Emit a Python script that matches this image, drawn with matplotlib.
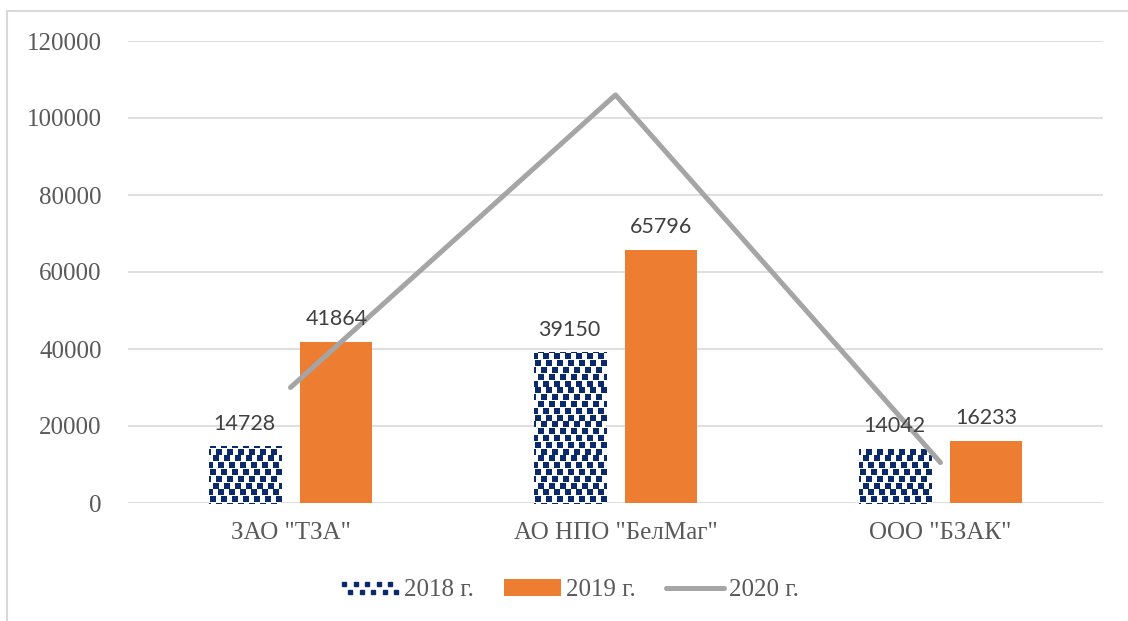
import numpy as np
import matplotlib
matplotlib.use('Agg')
import matplotlib.pyplot as plt
from matplotlib.lines import Line2D
from matplotlib.patches import Patch, Rectangle
from matplotlib.legend_handler import HandlerBase

companies = ['ЗАО "ТЗА"', 'АО НПО "БелМаг"', 'ООО "БЗАК"']
v2018 = [14728, 39150, 14042]
v2019 = [41864, 65796, 16233]
v2020 = [30000, 106000, 10500]
yticks = [0, 20000, 40000, 60000, 80000, 100000, 120000]

NAVY = '#0b2a6b'
ORANGE = '#ED7D31'
GREY = '#A5A5A5'
TXT = '#595959'

plt.rcParams['font.family'] = ['Liberation Serif', 'DejaVu Serif']

fig = plt.figure(figsize=(11.28, 6.21), dpi=100)
ax = fig.add_axes([128/1128, 1-503/621, 975/1128, 462/621])

x = np.arange(len(companies))
w = 0.2215
off = 0.1415

ax.set_xlim(-0.5, 2.5)
ax.set_ylim(0, 120000)
ax.set_yticks(yticks)
ax.yaxis.grid(True, color='#D9D9D9', lw=1.2)
ax.set_axisbelow(True)
for s in ax.spines.values():
    s.set_visible(False)
ax.tick_params(length=0)
ax.tick_params(axis='y', pad=19, labelsize=18, labelcolor=TXT)
ax.tick_params(axis='x', pad=14, labelsize=18, labelcolor=TXT)
ax.set_xticks(x)
ax.set_xticklabels(companies)

b18 = ax.bar(x - off, v2018, w, color='white', lw=0, zorder=2)
b19 = ax.bar(x + off, v2019, w, color=ORANGE, lw=0, zorder=2)

# dotted fill for 2018 bars: small squares, clipped to each bar
inv = ax.transData.inverted()
for bar in b18:
    (x0, y0), (x1, y1) = ax.transData.transform(
        [(bar.get_x(), 0), (bar.get_x() + bar.get_width(), bar.get_height())])
    pts = []
    j = 0
    for py in np.arange(y0 - 3, y1 + 6, 6.8):
        shift = (j % 2) * 5.5 + ((j // 2) % 2) * 2.8
        for px in np.arange(x0 - 12 + shift, x1 + 6, 11):
            pts.append((px, py))
        j += 1
    pts = inv.transform(np.array(pts))
    sc = ax.scatter(pts[:, 0], pts[:, 1], marker='s', s=14, color=NAVY,
                    lw=0, zorder=3)
    sc.set_clip_path(bar)

ax.plot(x, v2020, color=GREY, lw=3.6, solid_capstyle='round', zorder=4)

for xi, v in zip(x - off, v2018):
    ax.annotate(str(v), (xi, v), xytext=(0, 9), textcoords='offset points',
                ha='center', va='bottom', fontsize=15.5, family='Lato',
                color='#404040', zorder=5)
for xi, v in zip(x + off, v2019):
    ax.annotate(str(v), (xi, v), xytext=(0, 9), textcoords='offset points',
                ha='center', va='bottom', fontsize=15.5, family='Lato',
                color='#404040', zorder=5)


class DotsHandler(HandlerBase):
    def create_artists(self, legend, orig, xd, yd, width, height, fontsize, trans):
        arts = []
        for r, yy in enumerate([height * 0.7, height * 0.25]):
            for k in range(5):
                xx = -xd + (k + 0.5 * r + 0.25) * width / 5
                m = Line2D([xx], [yy - yd], marker='s', ms=3.5, color=NAVY,
                           ls='none', transform=trans)
                arts.append(m)
        return arts


h18 = Patch(facecolor='white')
h19 = Patch(facecolor=ORANGE)
h20 = Line2D([], [], color=GREY, lw=3.6, solid_capstyle='round')
leg = fig.legend([h18, h19, h20], ['2018 г.', '2019 г.', '2020 г.'],
                 loc='center', bbox_to_anchor=(570/1128, 1-590/621), ncol=3,
                 frameon=False, handlelength=2.3, handletextpad=0.2,
                 columnspacing=1.2, handler_map={h18: DotsHandler()},
                 prop={'size': 18})
for t in leg.get_texts():
    t.set_color(TXT)

fig.patches.append(Rectangle((7/1128, -0.1), 1.2, 1.1 - 11/621,
                             transform=fig.transFigure, fill=False,
                             ec='#D9D9D9', lw=1.5))

fig.savefig('out.png', dpi=100)
